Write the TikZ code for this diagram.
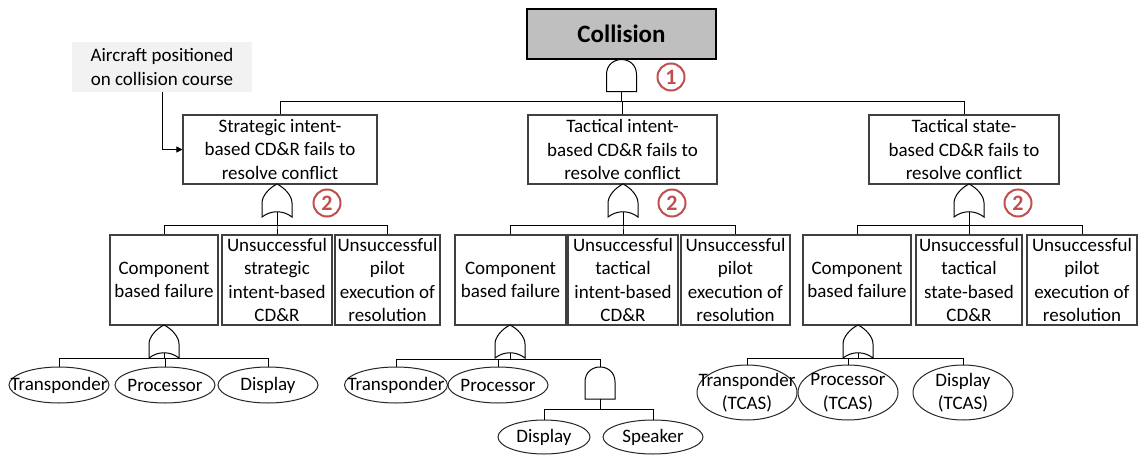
\documentclass[tikz,border=0pt]{standalone}
\usepackage{fontspec}
\setmainfont{Carlito}
\usetikzlibrary{shapes.geometric,arrows.meta}
\definecolor{numred}{HTML}{C0504D}
\definecolor{topgray}{HTML}{BFBFBF}
\definecolor{notegray}{HTML}{F2F2F2}
\tikzset{
  andgate/.pic={
    \draw[gateline] (-15,32) -- (-15,15) .. controls (-15,-5) and (15,-5) .. (15,15) -- (15,32) -- cycle;
    \coordinate (-out) at (0,0);
    \coordinate (-in) at (0,32);
  },
  orgate/.pic={
    \draw[gateline] (0,0) .. controls (-8,4) and (-15,12) .. (-15,19) -- (-15,33)
      .. controls (-6,26) and (6,26) .. (15,33) -- (15,19) .. controls (15,12) and (8,4) .. cycle;
    \coordinate (-out) at (0,0);
    \coordinate (-in) at (0,28);
  }
}
\begin{document}
\begin{tikzpicture}[x=1pt,y=-1pt,
  every node/.style={font=\fontsize{19}{23.5}\selectfont},
  box/.style={draw=black!75, line width=1.1pt, align=center, inner sep=0pt},
  evt/.style={draw=black!85, line width=1pt, ellipse, inner sep=0pt, minimum width=100pt, minimum height=36pt},
  evttext/.style={align=center, inner sep=0pt},
  gateline/.style={draw=black, line width=1pt, fill=white},
  wire/.style={draw=black, line width=1pt},
  num/.style={circle, draw=numred, line width=2pt, text=numred, inner sep=0pt,
    minimum size=27pt, font=\bfseries\fontsize{22}{22}\selectfont}
]
\path[use as bounding box, fill=white] (0,0) rectangle (1138,455);

% top event and its note
\node[box, draw=black, fill=topgray, minimum width=189pt, minimum height=50pt,
  font=\bfseries\fontsize{25}{30}\selectfont] (col) at (621.5,34) {Collision};
\node[fill=notegray, align=center, inner sep=0pt, minimum width=180pt, minimum height=50pt]
  (note) at (162,67) {Aircraft positioned\\on collision course};

% second level
\node[box, minimum width=194pt, minimum height=69pt] (s) at (280,149.5)
  {Strategic intent-\\based CD\&R fails to\\resolve conflict};
\node[box, minimum width=189pt, minimum height=69pt] (ti) at (622.5,149.5)
  {Tactical intent-\\based CD\&R fails to\\resolve conflict};
\node[box, minimum width=190pt, minimum height=69pt] (ts) at (964,149.5)
  {Tactical state-\\based CD\&R fails to\\resolve conflict};

% third level
\node[box, minimum width=108pt, minimum height=90pt] (s1) at (164,280) {Component\\based failure};
\node[box, minimum width=110pt, minimum height=90pt] (s2) at (277,280) {Unsuccessful\\strategic\\intent-based\\CD\&R};
\node[box, minimum width=105pt, minimum height=90pt] (s3) at (387.5,280) {Unsuccessful\\pilot\\execution of\\resolution};
\node[box, minimum width=111pt, minimum height=90pt] (t1) at (510.5,280) {Component\\based failure};
\node[box, minimum width=110pt, minimum height=90pt] (t2) at (623,280) {Unsuccessful\\tactical\\intent-based\\CD\&R};
\node[box, minimum width=109pt, minimum height=90pt] (t3) at (735.5,280) {Unsuccessful\\pilot\\execution of\\resolution};
\node[box, minimum width=108pt, minimum height=90pt] (u1) at (857,280) {Component\\based failure};
\node[box, minimum width=106pt, minimum height=90pt] (u2) at (969,280) {Unsuccessful\\tactical\\state-based\\CD\&R};
\node[box, minimum width=110pt, minimum height=90pt] (u3) at (1082,280) {Unsuccessful\\pilot\\execution of\\resolution};

% basic events
\node[evt] (e1) at (59,385) {};
\node[evttext] (e1t) at (e1) {Transponder};
\node[evt] (e2) at (165,385) {};
\node[evttext] (e2t) at (e2) {Processor};
\node[evt] (e3) at (268,385) {};
\node[evttext] (e3t) at (e3) {Display};

\node[evt, minimum width=103pt] (m1) at (396,385) {};
\node[evttext] (m1t) at (m1) {Transponder};
\node[evt] (m2) at (498,385) {};
\node[evttext] (m2t) at (m2) {Processor};
\node[evt, minimum width=92pt, minimum height=34pt] (md) at (544,437) {};
\node[evttext] (mdt) at (md) {Display};
\node[evt, minimum height=34pt] (ms) at (653,437) {};
\node[evttext] (mst) at (ms) {Speaker};

\node[evt, minimum height=55pt] (r1) at (747,392.5) {};
\node[evttext] (r1t) at (r1) {Transponder\\(TCAS)};
\node[evt, minimum height=55pt] (r2) at (848,392.5) {};
\node[evttext] (r2t) at (r2) {Processor\\(TCAS)};
\node[evt, minimum height=55pt] (r3) at (963,392.5) {};
\node[evttext] (r3t) at (r3) {Display\\(TCAS)};

% gates
\pic (g1) at (col.south) {andgate};
\pic (g2) at (277,184) {orgate};
\pic (g3) at (623,184) {orgate};
\pic (g4) at (969,184) {orgate};
\pic (g5) at (164,325) {orgate};
\pic (g6) at (510,325) {orgate};
\pic (g7) at (858,325) {orgate};
\pic (g8) at (600,367) {andgate};

% connectors
\draw[wire] (g1-in) -- ++(0,10) -| (s.north);
\draw[wire] (g1-in) -- ++(0,10) -| (ti.north);
\draw[wire] (g1-in) -- ++(0,10) -| (ts.north);

\foreach \g/\a/\b/\c in {g2/s1/s2/s3, g3/t1/t2/t3, g4/u1/u2/u3}{
  \draw[wire] (\g-in) -- ++(0,13) -| (\a.north);
  \draw[wire] (\g-in) -- ++(0,13) -| (\b.north);
  \draw[wire] (\g-in) -- ++(0,13) -| (\c.north);
}

\draw[wire] (g5-in) -- ++(0,5) -| (e1.north);
\draw[wire] (g5-in) -- ++(0,5) -| (e2.north);
\draw[wire] (g5-in) -- ++(0,5) -| (e3.north);

\draw[wire] (g6-in) -- ++(0,6) -| (m1.north);
\draw[wire] (g6-in) -- ++(0,6) -| (m2.north);
\draw[wire] (g6-in) -- ++(0,6) -| (g8-out);

\draw[wire] (g8-in) -- ++(0,10) -| (md.north);
\draw[wire] (g8-in) -- ++(0,10) -| (ms.north);

\draw[wire] (g7-in) -- ++(0,5) -| (r1.north);
\draw[wire] (g7-in) -- ++(0,5) -| (r2.north);
\draw[wire] (g7-in) -- ++(0,5) -| (r3.north);

\draw[wire, -{Triangle[length=6pt,width=6pt]}] (note.south) |- (s.west);

% gate markers
\node[num] (n1) at (671,77) {1};
\node[num] (n2) at (327,203) {2};
\node[num] (n3) at (672,203) {2};
\node[num] (n4) at (1018,203) {2};
\end{tikzpicture}
\end{document}
